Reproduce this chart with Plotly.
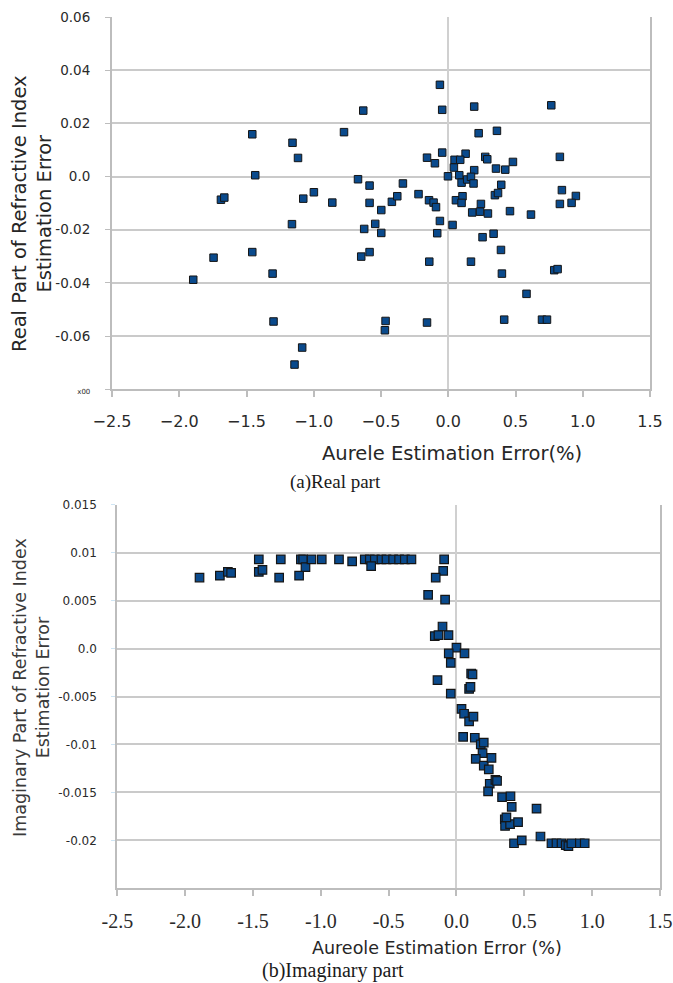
import plotly.graph_objects as go

W, H = 673, 983

# (a) real part of refractive index estimation error vs aureole estimation error (%)
real_x = [-0.632, -1.457, -0.775, -1.158, -1.117, -1.435, -1.690, -1.665, -0.671, -0.585,
          -0.337, -0.221, -1.078, -0.999, -0.862, -0.585, -0.498, -0.419, -0.379, -1.162,
          -0.625, -0.543, -0.498, -0.062, -0.045, 0.193, 0.766, 0.226, 0.362, -0.045,
          -0.158, -0.099, 0.129, 0.047, 0.089, 0.275, 0.290, 0.481, 0.355, 0.424,
          0.830, 0.042, -0.002, 0.082, 0.193, 0.099, 0.141, 0.169, 0.188, 0.394,
          -0.143, -0.109, -0.091, -0.062, 0.032, -0.082, 0.057, 0.106, 0.099, 0.347,
          0.370, 0.243, 0.236, 0.178, 0.295, 0.459, 0.615, 0.845, 0.949, 0.917,
          0.830, 0.337, 0.255, 0.392, 0.169, 0.399, 0.788, 0.813, 0.582, 0.416,
          0.697, 0.734, -0.141, -0.647, -0.585, -1.299, -0.466, -0.471, -0.158, -1.086,
          -1.143, -1.745, -1.457, -1.306, -1.896]
real_y = [0.0248, 0.0159, 0.0167, 0.0127, 0.0070, 0.0005, -0.0087, -0.0079, -0.0010, -0.0034,
          -0.0026, -0.0066, -0.0083, -0.0059, -0.0098, -0.0099, -0.0126, -0.0095, -0.0074, -0.0179,
          -0.0197, -0.0178, -0.0212, 0.0345, 0.0251, 0.0263, 0.0268, 0.0163, 0.0172, 0.0090,
          0.0071, 0.0050, 0.0086, 0.0063, 0.0063, 0.0074, 0.0065, 0.0055, 0.0030, 0.0026,
          0.0074, 0.0034, 0.0001, 0.0005, 0.0024, -0.0023, -0.0011, -0.0001, -0.0026, -0.0031,
          -0.0089, -0.0098, -0.0115, -0.0167, -0.0182, -0.0213, -0.0089, -0.0074, -0.0099, -0.0070,
          -0.0062, -0.0103, -0.0132, -0.0135, -0.0139, -0.0130, -0.0143, -0.0051, -0.0073, -0.0099,
          -0.0103, -0.0215, -0.0228, -0.0276, -0.0320, -0.0365, -0.0352, -0.0348, -0.0441, -0.0538,
          -0.0538, -0.0538, -0.0320, -0.0301, -0.0284, -0.0545, -0.0543, -0.0578, -0.0549, -0.0643,
          -0.0707, -0.0305, -0.0284, -0.0365, -0.0388]

# (b) imaginary part of refractive index estimation error vs aureole estimation error (%)
imag_x = [-1.894, -1.744, -1.685, -1.661, -1.457, -1.457, -1.430, -1.307, -1.295, -1.160,
          -1.147, -1.130, -1.113, -1.069, -0.993, -0.866, -0.769, -0.676, -0.639, -0.602,
          -0.553, -0.516, -0.467, -0.423, -0.381, -0.332, -0.629, -0.091, -0.098, -0.153,
          -0.209, -0.084, -0.103, -0.160, -0.133, -0.059, 0.000, -0.057, 0.059, -0.042,
          0.108, 0.118, -0.140, 0.093, 0.103, -0.042, 0.037, 0.056, 0.093, 0.125,
          0.049, 0.135, 0.179, 0.201, 0.192, 0.142, 0.201, 0.258, 0.238, 0.245,
          0.287, 0.299, 0.233, 0.336, 0.398, 0.407, 0.590, 0.356, 0.358, 0.395,
          0.454, 0.368, 0.424, 0.481, 0.619, 0.700, 0.737, 0.774, 0.805, 0.825,
          0.847, 0.909, 0.945]
imag_y = [0.0074, 0.0076, 0.0080, 0.0079, 0.0093, 0.0080, 0.0082, 0.0074, 0.0093, 0.0076,
          0.0093, 0.0093, 0.0085, 0.0093, 0.0093, 0.0093, 0.0091, 0.0093, 0.0093, 0.0093,
          0.0093, 0.0093, 0.0093, 0.0093, 0.0093, 0.0093, 0.0086, 0.0093, 0.0081, 0.0074,
          0.0056, 0.0051, 0.0023, 0.0013, 0.0014, 0.0014, 0.0001, -0.0005, -0.0005, -0.0015,
          -0.0026, -0.0027, -0.0033, -0.0042, -0.0040, -0.0047, -0.0063, -0.0068, -0.0076, -0.0071,
          -0.0092, -0.0093, -0.0100, -0.0098, -0.0109, -0.0115, -0.0122, -0.0114, -0.0126, -0.0141,
          -0.0137, -0.0138, -0.0149, -0.0155, -0.0154, -0.0165, -0.0167, -0.0178, -0.0185, -0.0183,
          -0.0181, -0.0176, -0.0203, -0.0200, -0.0196, -0.0203, -0.0203, -0.0203, -0.0205, -0.0206,
          -0.0203, -0.0203, -0.0203]

x_tick_vals = [-2.5, -2.0, -1.5, -1.0, -0.5, 0.0, 0.5, 1.0, 1.5]
x_tick_text_a = ["\u22122.5", "\u22122.0", "\u22121.5", "\u22121.0", "\u22120.5", "0.0", "0.5", "1.0", "1.5"]
x_tick_text_b = ["-2.5", "-2.0", "-1.5", "-1.0", "-0.5", "0.0", "0.5", "1.0", "1.5"]

real_tick_vals = [0.06, 0.04, 0.02, 0.0, -0.02, -0.04, -0.06, -0.08]
real_tick_text = ["0.06", "0.04", "0.02", "0.0", "-0.02", "-0.04", "-0.06",
                  "<span style='font-size:7px'>x00</span>"]

imag_tick_vals = [0.015, 0.01, 0.005, 0.0, -0.005, -0.01, -0.015, -0.02]
imag_tick_text = ["0.015", "0.01", "0.005", "0.0", "-0.005", "-0.01", "-0.015", "-0.02"]

MARK = "#0a4a8c"
EDGE = "#151515"
GRID = "#cacaca"
AXIS = "#bdbdbd"
SANS = "DejaVu Sans"
SERIF = "Liberation Serif"


def px_x(p):
    return p / W


def px_y(p):
    return 1 - p / H


fig = go.Figure()
fig.add_trace(go.Scatter(
    x=real_x, y=real_y, mode="markers", xaxis="x", yaxis="y",
    marker=dict(symbol="square", size=7.5, color=MARK, line=dict(color=EDGE, width=1)),
    showlegend=False))
fig.add_trace(go.Scatter(
    x=imag_x, y=imag_y, mode="markers", xaxis="x2", yaxis="y2",
    marker=dict(symbol="square", size=8.5, color=MARK, line=dict(color=EDGE, width=1.2)),
    showlegend=False))

fig.update_layout(
    width=W, height=H,
    margin=dict(l=0, r=0, t=0, b=0, autoexpand=False),
    paper_bgcolor="white", plot_bgcolor="white",
    xaxis=dict(
        domain=[px_x(112), px_x(650)], anchor="y", range=[-2.5, 1.5],
        showgrid=False, zeroline=True, zerolinecolor="#d0d0d0", zerolinewidth=2,
        showline=True, linecolor=AXIS, linewidth=2, automargin=False,
        ticks="outside", ticklen=6, tickcolor=AXIS, tickwidth=1.5,
        tickvals=x_tick_vals, ticktext=x_tick_text_a,
        tickfont=dict(family=SANS, size=16, color="#2a2a2a"),
        ticklabelstandoff=10,
    ),
    yaxis=dict(
        domain=[px_y(389.3), px_y(17)], anchor="x", range=[-0.08, 0.06],
        showgrid=True, gridcolor=GRID, gridwidth=1.5, zeroline=False,
        showline=True, linecolor=AXIS, linewidth=2, mirror=True, automargin=False,
        ticks="outside", ticklen=5, tickcolor=AXIS,
        tickvals=real_tick_vals, ticktext=real_tick_text,
        tickfont=dict(family=SANS, size=13.5, color="#2a2a2a"),
        ticklabelstandoff=12,
    ),
    xaxis2=dict(
        domain=[px_x(117.3), px_x(660)], anchor="y2", range=[-2.5, 1.5],
        showgrid=False, zeroline=True, zerolinecolor="#d0d0d0", zerolinewidth=2,
        showline=True, linecolor=AXIS, linewidth=2, automargin=False,
        ticks="outside", ticklen=6, tickcolor=AXIS, tickwidth=1.5,
        tickvals=x_tick_vals, ticktext=x_tick_text_b,
        tickfont=dict(family=SERIF, size=20, color="#2a2a2a"),
        ticklabelstandoff=8,
    ),
    yaxis2=dict(
        domain=[px_y(888.3), px_y(504.7)], anchor="x2", range=[-0.025, 0.015],
        showgrid=True, gridcolor=GRID, gridwidth=1.5, zeroline=False,
        showline=True, linecolor=AXIS, linewidth=2, mirror=True, automargin=False,
        ticks="outside", ticklen=4, tickcolor="#cfe5f4",
        tickvals=imag_tick_vals, ticktext=imag_tick_text,
        tickfont=dict(family=SANS, size=12, color="#2a2a2a"),
        ticklabelstandoff=12,
    ),
)

annotations = [
    dict(text="Real Part of Refractive Index<br>Estimation Error", x=px_x(32), y=px_y(214),
         textangle=-90, font=dict(family=SANS, size=19.5, color="#262626")),
    dict(text="Aurele Estimation Error(%)", x=px_x(452), y=px_y(453),
         font=dict(family=SANS, size=19.5, color="#262626")),
    dict(text="(a)Real part", x=px_x(335), y=px_y(482),
         font=dict(family=SERIF, size=19, color="#1a1a1a")),
    dict(text="Imaginary Part of Refractive Index<br>Estimation Error", x=px_x(31), y=px_y(688),
         textangle=-90, font=dict(family=SANS, size=17.5, color="#3a3a3a")),
    dict(text="Aureole Estimation Error (%)", x=px_x(437), y=px_y(948),
         font=dict(family=SANS, size=17.5, color="#262626")),
    dict(text="(b)Imaginary part", x=px_x(333), y=px_y(970),
         font=dict(family=SERIF, size=20, color="#1a1a1a")),
]
for a in annotations:
    a.update(xref="paper", yref="paper", xanchor="center", yanchor="middle", showarrow=False)
fig.update_layout(annotations=annotations)

fig.write_html("out.html")
